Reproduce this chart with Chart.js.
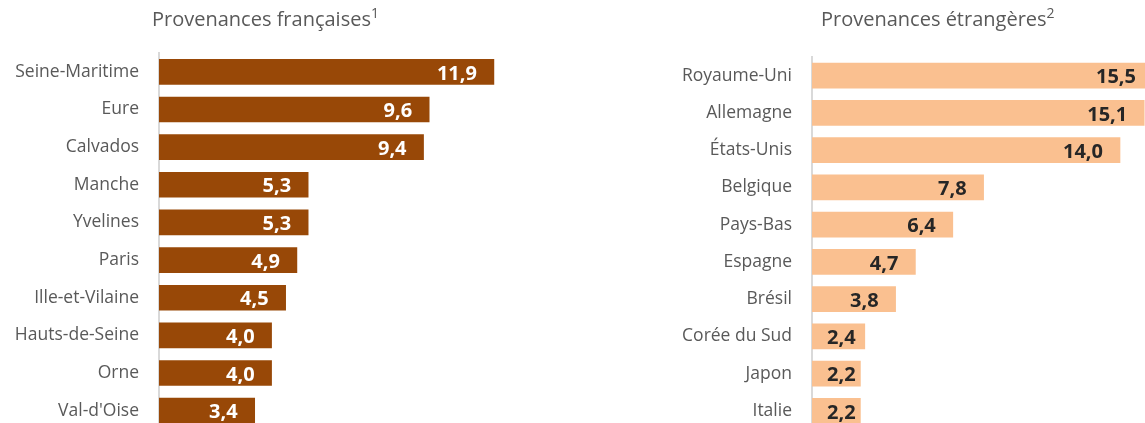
<!DOCTYPE html>
<html>
<head>
<meta charset="utf-8">
<script src="https://cdn.jsdelivr.net/npm/chart.js@4.4.1/dist/chart.umd.min.js"></script>
<style>
  html, body { margin:0; padding:0; background:#fff; overflow:hidden; width:1145px; height:423px; }
  #wrap { position:relative; width:1145px; height:423px; overflow:hidden; }
  .box { position:absolute; top:0; height:460px; }
  .title { position:absolute; top:5px; font-family:"Open Sans", sans-serif; font-size:20px; color:#595959; white-space:nowrap; }
  .title sup { font-size:14px; vertical-align:8px; line-height:0; }
</style>
</head>
<body>
<div id="wrap">
  <div class="box" style="left:0px; width:560px;"><canvas id="c1"></canvas></div>
  <div class="box" style="left:580px; width:584px;"><canvas id="c2"></canvas></div>
  <div class="title" style="left:152px;">Provenances françaises<sup>1</sup></div>
  <div class="title" style="left:821px;">Provenances étrangères<sup>2</sup></div>
</div>
<script>
const frLabels = ["Seine-Maritime","Eure","Calvados","Manche","Yvelines","Paris","Ille-et-Vilaine","Hauts-de-Seine","Orne","Val-d'Oise"];
const frValues = [11.9, 9.6, 9.4, 5.3, 5.3, 4.9, 4.5, 4.0, 4.0, 3.4];
const etLabels = ["Royaume-Uni","Allemagne","États-Unis","Belgique","Pays-Bas","Espagne","Brésil","Corée du Sud","Japon","Italie"];
const etValues = [15.5, 15.1, 14.0, 7.8, 6.4, 4.7, 3.8, 2.4, 2.2, 2.2];

const fmt = v => v.toFixed(1).replace('.', ',');

const labelPlugin = {
  id: 'endLabels',
  afterDatasetsDraw(chart, args, opts) {
    const ctx = chart.ctx;
    const meta = chart.getDatasetMeta(0);
    const data = chart.data.datasets[0].data;
    ctx.save();
    ctx.font = 'bold 20px "Open Sans", sans-serif';
    ctx.fillStyle = opts.color;
    ctx.textAlign = 'right';
    ctx.textBaseline = 'middle';
    meta.data.forEach((bar, i) => {
      const txt = fmt(data[i]);
      const w = ctx.measureText(txt).width;
      const x = Math.max(bar.x - 17, bar.base + 15 + w);
      ctx.fillText(txt, x, bar.y + 2);
    });
    ctx.restore();
  }
};

function makeChart(id, labels, values, color, textColor, axisWidth, xMax, padTop, padRight, padBottom) {
  return new Chart(document.getElementById(id), {
    type: 'bar',
    data: { labels: labels, datasets: [{ data: values, backgroundColor: color, barThickness: 25, borderWidth: 0 }] },
    options: {
      indexAxis: 'y',
      responsive: true,
      maintainAspectRatio: false,
      animation: false,
      devicePixelRatio: 1,
      layout: { padding: { top: padTop, right: padRight, bottom: padBottom, left: 0 } },
      plugins: { legend: { display: false }, tooltip: { enabled: false }, title: { display: false }, endLabels: { color: textColor } },
      scales: {
        x: { display: false, min: 0, max: xMax },
        y: {
          grid: { display: false, drawTicks: false },
          border: { display: true, color: '#d9d9d9', width: 2 },
          ticks: { padding: 20, color: '#595959', font: { family: '"Open Sans", sans-serif', size: 17.5 } },
          afterFit(scale) { scale.width = axisWidth; }
        }
      }
    },
    plugins: [labelPlugin]
  });
}

makeChart('c1', frLabels, frValues, '#984807', '#ffffff', 159, 14, 53, 7, 0);
makeChart('c2', etLabels, etValues, '#FAC090', '#262626', 232, 16, 57, 0, 0);
</script>
</body>
</html>
